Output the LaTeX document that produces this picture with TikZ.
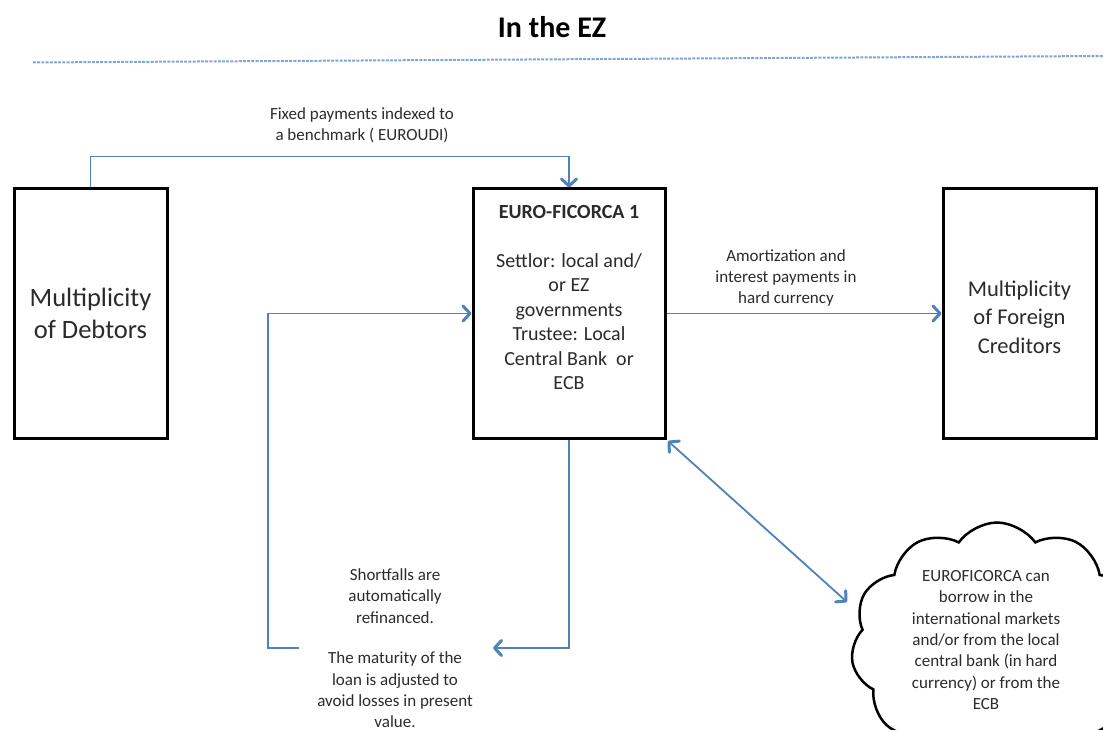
\documentclass[tikz,border=0pt]{standalone}
\usepackage{fontspec}
\setmainfont{Carlito}
\usetikzlibrary{arrows.meta,shapes.symbols}
\definecolor{lineblue}{HTML}{4F81BD}
\definecolor{dashblue}{HTML}{7FA6D6}
\definecolor{txt}{HTML}{2B2B2B}
\tikzset{
  box/.style={draw=black, line width=3pt, fill=white, inner sep=0pt, text=txt, align=center},
  tipv/.tip={Straight Barb[length=7pt,width=15pt,line width=3pt,round]},
  conn/.style={draw=lineblue, line width=1.8pt, -tipv},
  lbl/.style={text=txt, align=center, inner sep=0pt, font=\fontsize{17}{21.3}\selectfont},
}
\begin{document}
\begin{tikzpicture}[x=1pt,y=-1pt]
\useasboundingbox (0,0) rectangle (1103,730);
\clip (0,0) rectangle (1103,730);
% title
\node[text=black, font=\fontsize{30}{34}\selectfont\bfseries] (title) at (552,27) {In the EZ};
% dashed separator
\coordinate (dl) at (33,62.5);
\coordinate (dr) at (1103,56);
\draw[dashblue, line width=2pt, dash pattern=on 3pt off 1.2pt] (dl) -- (dr);
% boxes
\node[box, minimum width=153pt, minimum height=249pt, font=\fontsize{26.5}{32}\selectfont] (deb) at (90.5,313.5) {Multiplicity\\of Debtors};
\node[box, minimum width=192pt, minimum height=249pt] (fic) at (569,313.5) {};
\node[box, minimum width=153pt, minimum height=249pt, font=\fontsize{22.5}{28.5}\selectfont] (cred) at (1019.5,313.5) {\\[-6pt]Multiplicity\\of Foreign\\Creditors};
\node[text=txt, align=center, inner sep=0pt, anchor=north, font=\fontsize{20}{24.5}\selectfont] (fictext) at (569,205)
  {\textbf{EURO-FICORCA 1}\\[24.5pt]Settlor: local and/\\or EZ\\governments\\Trustee: Local\\Central Bank\ \ or\\ECB};
% cloud
\node[cloud, cloud puffs=11, cloud puff arc=110, aspect=1.15, draw=black, line width=2.5pt, fill=white,
      minimum width=292pt, minimum height=245pt] (cloud) at (997,645) {};
\node[lbl] (cloudtext) at (986,640) {EUROFICORCA can\\borrow in the\\international markets\\and/or from the local\\central bank (in hard\\currency) or from the\\ECB};
% labels
\node[lbl] (toplbl) at (362,125.5) {Fixed payments indexed to\\a benchmark ( EUROUDI)};
\node[lbl] (amort) at (786,278) {Amortization and\\interest payments in\\hard currency};
\node[lbl] (short) at (395,596) {Shortfalls are\\automatically\\refinanced.};
\node[lbl] (matur) at (395,690) {The maturity of the\\loan is adjusted to\\avoid losses in present\\value.};
% connectors
\draw[conn] (deb.north) -- ++(0,-31) -| (fic.north);
\draw[conn] (fic.east) -- (cred.west);
\coordinate (lstart) at (299,648);
\coordinate (lcorner) at (268,648);
\draw[conn] (lstart) -- (lcorner) |- (fic.west);
\coordinate (bend) at (493,648);
\draw[conn] (fic.south) |- (bend);
\coordinate (dstart) at (668,441);
\coordinate (dend) at (847,602);
\draw[conn, tipv-tipv] (dstart) -- (dend);
\end{tikzpicture}
\end{document}
